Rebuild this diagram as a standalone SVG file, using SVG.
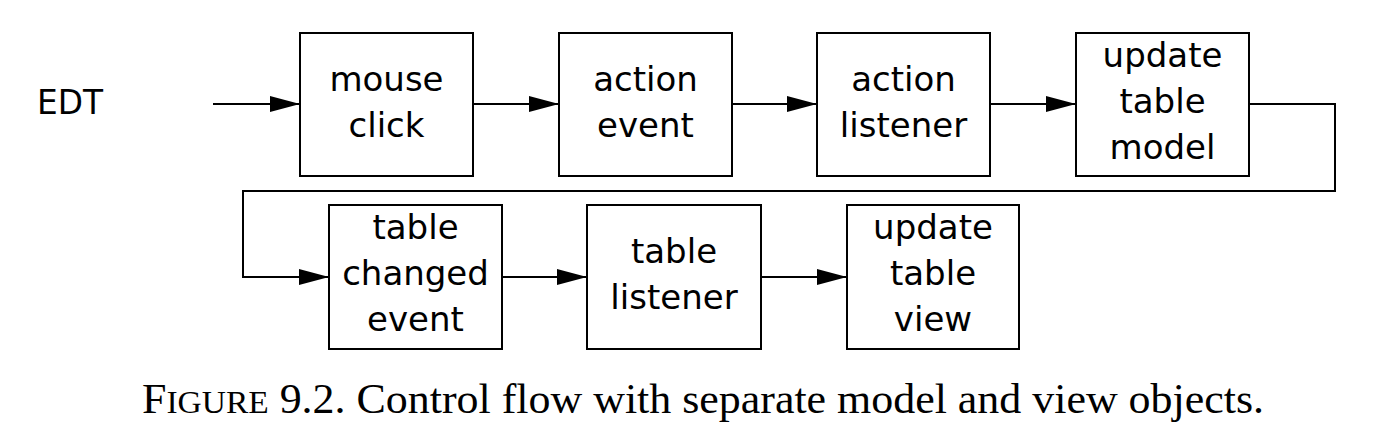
<svg xmlns="http://www.w3.org/2000/svg" width="1378" height="440" viewBox="0 0 1378 440">
<style>
.box{fill:#fff;stroke:#000;stroke-width:2}
.lbl{font-family:"DejaVu Sans","Liberation Sans",sans-serif;font-size:34px;fill:#000;text-anchor:middle}
.edge{fill:none;stroke:#000;stroke-width:2}
.cap{font-family:"Liberation Serif","DejaVu Serif",serif;font-size:42px;fill:#000}
</style>
<defs>
<marker id="arr" markerUnits="userSpaceOnUse" markerWidth="30" markerHeight="16" refX="30" refY="8" orient="auto">
<path d="M0,0 L30,8 L0,16 z" fill="#000"/>
</marker>
</defs>
<rect width="1378" height="440" fill="#fff"/>
<g id="edt"><text class="lbl" x="37" y="114" style="text-anchor:start" textLength="66" lengthAdjust="spacingAndGlyphs">EDT</text></g>
<g id="connectors">
<path class="edge" d="M213,104 H300" marker-end="url(#arr)"/>
<path class="edge" d="M473,104 H559" marker-end="url(#arr)"/>
<path class="edge" d="M732,104 H817" marker-end="url(#arr)"/>
<path class="edge" d="M990,104 H1076" marker-end="url(#arr)"/>
<path class="edge" d="M1249,104 H1335 V191 H243 V277 H329" marker-end="url(#arr)"/>
<path class="edge" d="M502,277 H587" marker-end="url(#arr)"/>
<path class="edge" d="M761,277 H847" marker-end="url(#arr)"/>
</g>
<g id="mouse-click"><rect class="box" x="300" y="33" width="173" height="143"/><text class="lbl" x="386.5" y="91">mouse</text><text class="lbl" x="386.5" y="137">click</text></g>
<g id="action-event"><rect class="box" x="559" y="33" width="173" height="143"/><text class="lbl" x="645.5" y="91">action</text><text class="lbl" x="645.5" y="137">event</text></g>
<g id="action-listener"><rect class="box" x="817" y="33" width="173" height="143"/><text class="lbl" x="903.5" y="91">action</text><text class="lbl" x="903.5" y="137">listener</text></g>
<g id="update-table-model"><rect class="box" x="1076" y="33" width="173" height="143"/><text class="lbl" x="1162.5" y="67">update</text><text class="lbl" x="1162.5" y="113">table</text><text class="lbl" x="1162.5" y="159">model</text></g>
<g id="table-changed-event"><rect class="box" x="329" y="205" width="173" height="144"/><text class="lbl" x="415.5" y="239">table</text><text class="lbl" x="415.5" y="285">changed</text><text class="lbl" x="415.5" y="331">event</text></g>
<g id="table-listener"><rect class="box" x="587" y="205" width="174" height="144"/><text class="lbl" x="674" y="263">table</text><text class="lbl" x="674" y="309">listener</text></g>
<g id="update-table-view"><rect class="box" x="847" y="205" width="172" height="144"/><text class="lbl" x="933" y="239">update</text><text class="lbl" x="933" y="285">table</text><text class="lbl" x="933" y="331">view</text></g>
<text class="cap" x="142" y="413" textLength="1122" lengthAdjust="spacingAndGlyphs">F<tspan font-size="32">IGURE</tspan> 9.2. Control flow with separate model and view objects.</text>
</svg>
